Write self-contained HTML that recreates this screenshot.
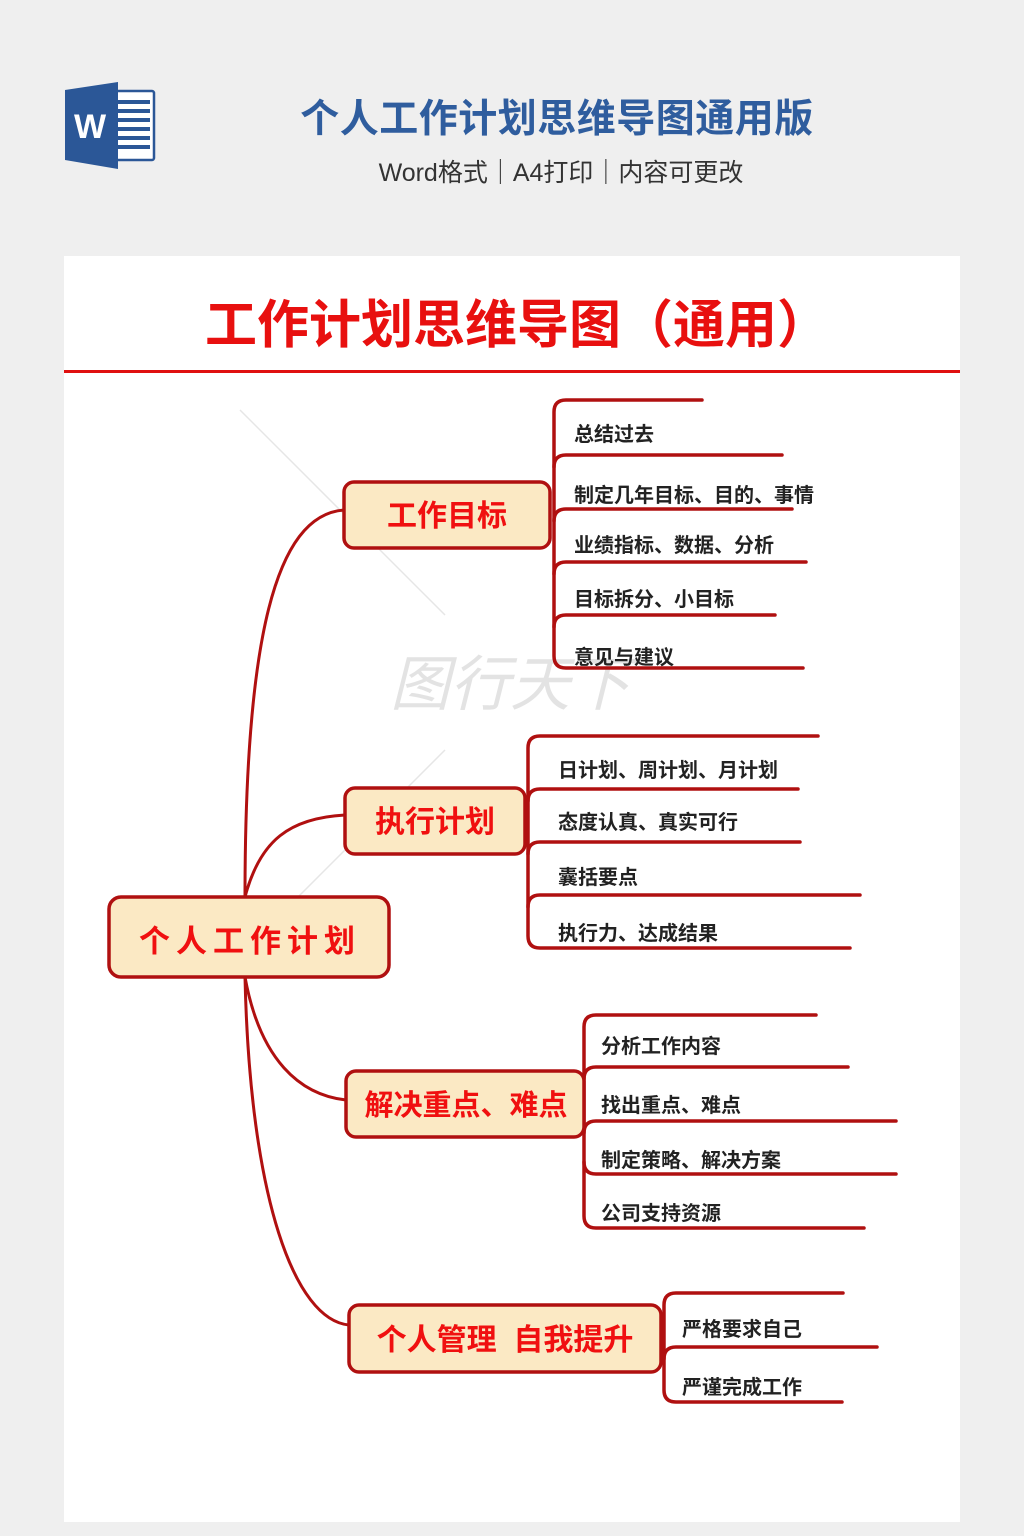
<!DOCTYPE html>
<html><head><meta charset="utf-8"><style>
html,body{margin:0;padding:0;background:#efefef;}
body{width:1024px;height:1536px;overflow:hidden;}
svg{display:block}
</style></head><body>
<svg width="1024" height="1536" viewBox="0 0 1024 1536" xmlns="http://www.w3.org/2000/svg" font-family="'Liberation Sans','Noto Sans CJK SC',sans-serif">
<rect width="1024" height="1536" fill="#efefef"/>
<g>
<rect x="116" y="91" width="38" height="69" fill="#fff" stroke="#2b5797" stroke-width="2.5" rx="2"/>
<g fill="#2b5797">
<rect x="118" y="100" width="32" height="4"/><rect x="118" y="109" width="32" height="4"/><rect x="118" y="118" width="32" height="4"/><rect x="118" y="127" width="32" height="4"/><rect x="118" y="136" width="32" height="4"/><rect x="118" y="145" width="32" height="4"/>
</g>
<polygon points="65,90 118,82 118,169 65,160" fill="#2b5797"/>
<text x="90" y="138" font-size="34" font-weight="bold" fill="#fff" text-anchor="middle">W</text>
</g>
<text x="557" y="132" font-size="39" fill="#2f5d9e" text-anchor="middle" font-weight="bold" letter-spacing="0.5">个人工作计划思维导图通用版</text>
<text x="561" y="181" font-size="25" fill="#333" text-anchor="middle">Word格式｜A4打印｜内容可更改</text>
<rect x="64" y="256" width="896" height="1266" fill="#fff"/>
<text x="517" y="343" font-size="52" fill="#e8100f" text-anchor="middle" font-weight="bold">工作计划思维导图（通用）</text>
<rect x="64" y="370" width="896" height="3" fill="#e01010"/>
<g stroke="#e6e6e6" stroke-width="1.5" fill="none">
<line x1="240" y1="410" x2="445" y2="615"/><line x1="445" y1="750" x2="240" y2="955"/>
</g>
<text x="510" y="705" font-size="60" fill="#e3e3e3" text-anchor="middle" font-style="italic">图行天下</text>
<g fill="none" stroke="#b01010" stroke-width="3">
<path d="M245,897 C245,640 275,515 344,510"/>
<path d="M245,897 C260,840 290,818 345,815"/>
<path d="M245,977 C260,1060 300,1095 346,1100"/>
<path d="M245,977 C250,1200 295,1320 349,1325"/>
</g>
<g fill="none" stroke="#b01010" stroke-width="3.5" stroke-linecap="round">
<path d="M702,400 H566 Q554,400 554,412 V656 Q554,668 566,668 H803"/>
<path d="M554,467 Q554,455 566,455 H782"/><path d="M554,521 Q554,509 566,509 H792"/><path d="M554,574 Q554,562 566,562 H806"/><path d="M554,627 Q554,615 566,615 H775"/>
<path d="M818,736 H540 Q528,736 528,748 V936 Q528,948 540,948 H850"/>
<path d="M528,801 Q528,789 540,789 H798"/><path d="M528,854 Q528,842 540,842 H800"/><path d="M528,907 Q528,895 540,895 H860"/>
<path d="M816,1015 H596 Q584,1015 584,1027 V1216 Q584,1228 596,1228 H864"/>
<path d="M584,1079 Q584,1067 596,1067 H848"/><path d="M584,1133 Q584,1121 596,1121 H896"/><path d="M584,1162 Q584,1174 596,1174 H896"/>
<path d="M843,1293 H676 Q664,1293 664,1305 V1390 Q664,1402 676,1402 H842"/>
<path d="M664,1359 Q664,1347 676,1347 H877"/>
</g>
<g fill="#fbe9c4" stroke="#b01010" stroke-width="3.5">
<rect x="109" y="897" width="280" height="80" rx="12"/>
<rect x="344" y="482" width="206" height="66" rx="10"/>
<rect x="345" y="788" width="180" height="66" rx="10"/>
<rect x="346" y="1071" width="238" height="66" rx="10"/>
<rect x="349" y="1305" width="312" height="67" rx="10"/>
</g>
<g fill="#f01010" font-weight="bold" text-anchor="middle">
<text x="250" y="952" font-size="31" letter-spacing="6">个人工作计划</text>
<text x="447" y="526" font-size="30">工作目标</text>
<text x="435" y="832" font-size="30">执行计划</text>
<text x="466" y="1115" font-size="29">解决重点、难点</text>
<text x="505" y="1350" font-size="30" xml:space="preserve">个人管理  自我提升</text>
</g>
<g fill="#222" font-size="20" font-weight="bold">
<text x="574" y="441">总结过去</text>
<text x="574" y="502">制定几年目标、目的、事情</text>
<text x="574" y="552">业绩指标、数据、分析</text>
<text x="574" y="606">目标拆分、小目标</text>
<text x="574" y="664">意见与建议</text>
<text x="558" y="777">日计划、周计划、月计划</text>
<text x="558" y="829">态度认真、真实可行</text>
<text x="558" y="884">囊括要点</text>
<text x="558" y="940">执行力、达成结果</text>
<text x="601" y="1053">分析工作内容</text>
<text x="601" y="1112">找出重点、难点</text>
<text x="601" y="1167">制定策略、解决方案</text>
<text x="601" y="1220">公司支持资源</text>
<text x="682" y="1336">严格要求自己</text>
<text x="682" y="1394">严谨完成工作</text>
</g>
</svg>
</body></html>
